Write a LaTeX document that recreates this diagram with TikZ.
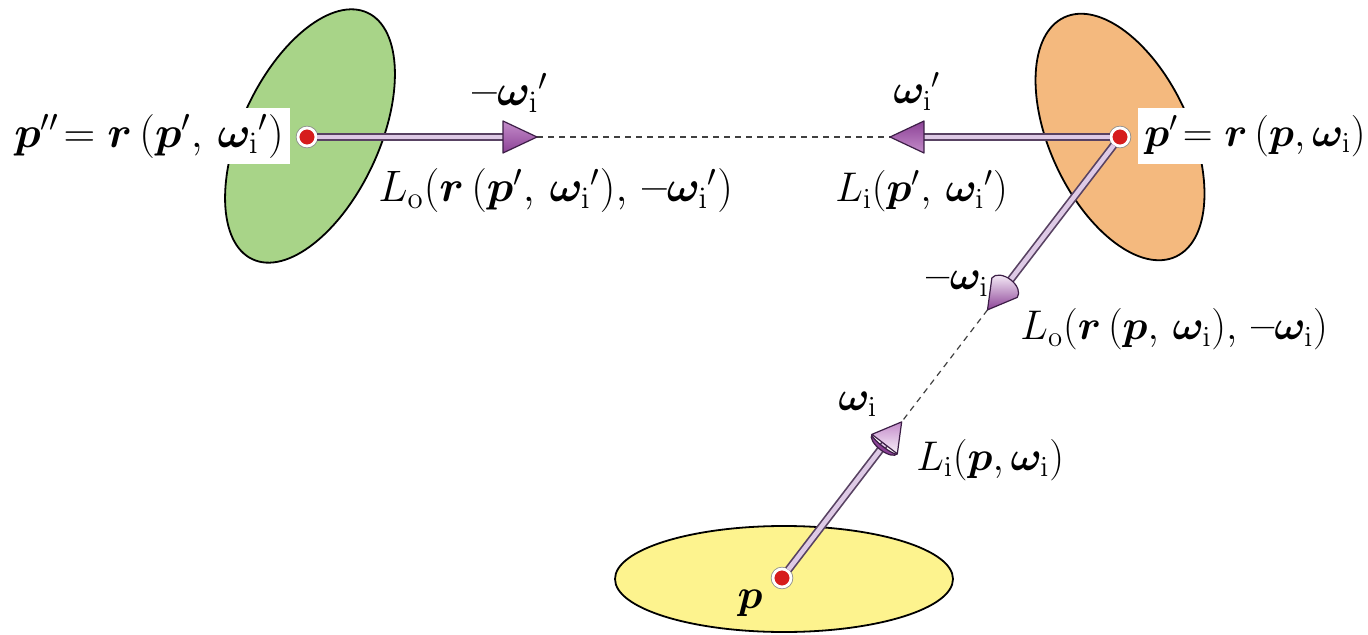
\RequirePackage{fix-cm}
\documentclass[tikz,border=0pt]{standalone}
\usepackage{amsmath,bm}
\usetikzlibrary{calc}
\definecolor{greenfill}{RGB}{168,212,136}
\definecolor{orangefill}{RGB}{244,185,126}
\definecolor{yellowfill}{RGB}{253,243,142}
\definecolor{dotred}{RGB}{214,28,28}
\definecolor{headdark}{RGB}{140,66,150}
\definecolor{headmid}{RGB}{196,140,202}
\definecolor{headlight}{RGB}{248,240,250}
\definecolor{headedge}{RGB}{60,30,70}
\definecolor{shaftout}{RGB}{88,66,98}
\definecolor{shaftin}{RGB}{222,202,230}
\newcommand{\mym}{\text{\bfseries --}}
\begin{document}
\begin{tikzpicture}[x=0.5pt,y=-0.5pt,
  surface/.style={draw=black, line width=0.9pt},
  dotnode/.style={circle, fill=dotred, draw=white, line width=1.4pt, minimum size=9pt, inner sep=0pt,
     preaction={draw=black!45, line width=2.2pt}},
  shaft/.style={draw=shaftout, line width=4pt, postaction={draw=shaftin, line width=2.3pt}},
  dashray/.style={draw=black!75, line width=0.6pt, dash pattern=on 3pt off 2.5pt},
  headbody/.style={draw=headedge, line width=0.6pt, line join=round},
  lab/.style={font=\fontsize{20.74}{25}\selectfont, inner sep=0pt},
  biglab/.style={font=\fontsize{22}{26}\selectfont, inner sep=0pt},
  boxlab/.style={fill=white, minimum height=28pt, inner xsep=3pt}]
\useasboundingbox (0,0) rectangle (1368,635);

% surfaces
\draw[surface, fill=greenfill, rotate around={65:(310,136)}] (310,136) ellipse [x radius=136, y radius=69];
\draw[surface, fill=orangefill, rotate around={115:(1120,137)}] (1120,137) ellipse [x radius=132, y radius=70];
\draw[surface, fill=yellowfill] (784,579) ellipse [x radius=169, y radius=53];

% points
\coordinate (ppppos) at (307,137);
\coordinate (pppos) at (1120,137);
\coordinate (ppos) at (782,578);

% boxed labels
\node[biglab, boxlab, anchor=east] (ppplabel) at (290,136) {$\bm{p}''\!=\bm{r}\,(\bm{p}',\,\bm{\omega}_{\mathrm{i}}{}')$};
\node[lab, boxlab, anchor=west] (pplabel) at (1138,136) {$\bm{p}'\!=\bm{r}\,(\bm{p},\bm{\omega}_{\mathrm{i}})$};

% arrow geometry
\coordinate (tip1) at (537,137);
\coordinate (base1) at (503,137);
\coordinate (tip2) at (890,137);
\coordinate (base2) at (922,137);
\coordinate (tip3) at ($(pppos)!0.392!(ppos)$);
\coordinate (base3) at ($(tip3)!14pt!(pppos)$);
\coordinate (tip4) at ($(pppos)!0.646!(ppos)$);
\coordinate (base4) at ($(tip4)!14pt!(ppos)$);

% dashed rays
\draw[dashray] (tip1) -- (tip2);
\draw[dashray] (tip3) -- (tip4);

% dots (nodes)
\node[dotnode] (ppp) at (ppppos) {};
\node[dotnode] (pp) at (pppos) {};
\node[dotnode] (p) at (ppos) {};

% shafts
\draw[shaft] (ppp) -- (base1);
\draw[shaft] (pp) -- (base2);
\draw[shaft] (pp) -- (base3);
\draw[shaft] (p) -- (base4);

% heads
\begin{scope}[shift={(tip1)}]
  \path[headbody, top color=headmid, middle color=headlight, bottom color=headdark] (0,0) -- (-17pt,8pt) -- (-17pt,-8pt) -- cycle;
\end{scope}
\begin{scope}[shift={(tip2)}, rotate=180]
  \path[headbody, top color=headdark, middle color=headlight, bottom color=headmid] (0,0) -- (-17pt,8pt) -- (-17pt,-8pt) -- cycle;
\end{scope}
\begin{scope}[shift={(tip3)}, rotate=232.5]
  \path[headbody, top color=headlight, bottom color=headdark] (0,0) -- (-14pt,8pt) arc[start angle=90, end angle=270, x radius=5pt, y radius=8pt] -- cycle;
\end{scope}
\begin{scope}[shift={(tip4)}, rotate=52.5]
  \path[headbody, top color=headmid, bottom color=headlight] (0,0) -- (-14pt,8pt) -- (-14pt,-8pt) -- cycle;
  \path[headbody, fill=headdark] (-14pt,8pt) arc[start angle=90, end angle=270, x radius=3.5pt, y radius=8pt]
     arc[start angle=270, end angle=90, x radius=1.5pt, y radius=8pt] -- cycle;
\end{scope}

% labels
\node[biglab, anchor=base] (lmwp) at (510,106) {$\mym\bm{\omega}_{\mathrm{i}}{}'$};
\node[lab, anchor=base] (lwp) at (917,104) {$\bm{\omega}_{\mathrm{i}}{}'$};
\node[biglab, anchor=base west] (llo1) at (378,202) {$L_{\mathrm{o}}(\bm{r}\,(\bm{p}',\,\bm{\omega}_{\mathrm{i}}{}'),\,\mym\bm{\omega}_{\mathrm{i}}{}')$};
\node[lab, anchor=base west] (lli1) at (835,202) {$L_{\mathrm{i}}(\bm{p}',\,\bm{\omega}_{\mathrm{i}}{}')$};
\node[lab, anchor=base west] (lmw) at (926,290) {$\mym\bm{\omega}_{\mathrm{i}}$};
\node[lab, anchor=base west] (llo2) at (1020,340) {$L_{\mathrm{o}}(\bm{r}\,(\bm{p},\,\bm{\omega}_{\mathrm{i}}),\,\mym\bm{\omega}_{\mathrm{i}})$};
\node[lab, anchor=base west] (lw) at (838,410) {$\bm{\omega}_{\mathrm{i}}$};
\node[lab, anchor=base west] (lli2) at (916,470) {$L_{\mathrm{i}}(\bm{p},\bm{\omega}_{\mathrm{i}})$};
\node[lab] (lp) at (750,603) {$\bm{p}$};
\end{tikzpicture}
\end{document}
